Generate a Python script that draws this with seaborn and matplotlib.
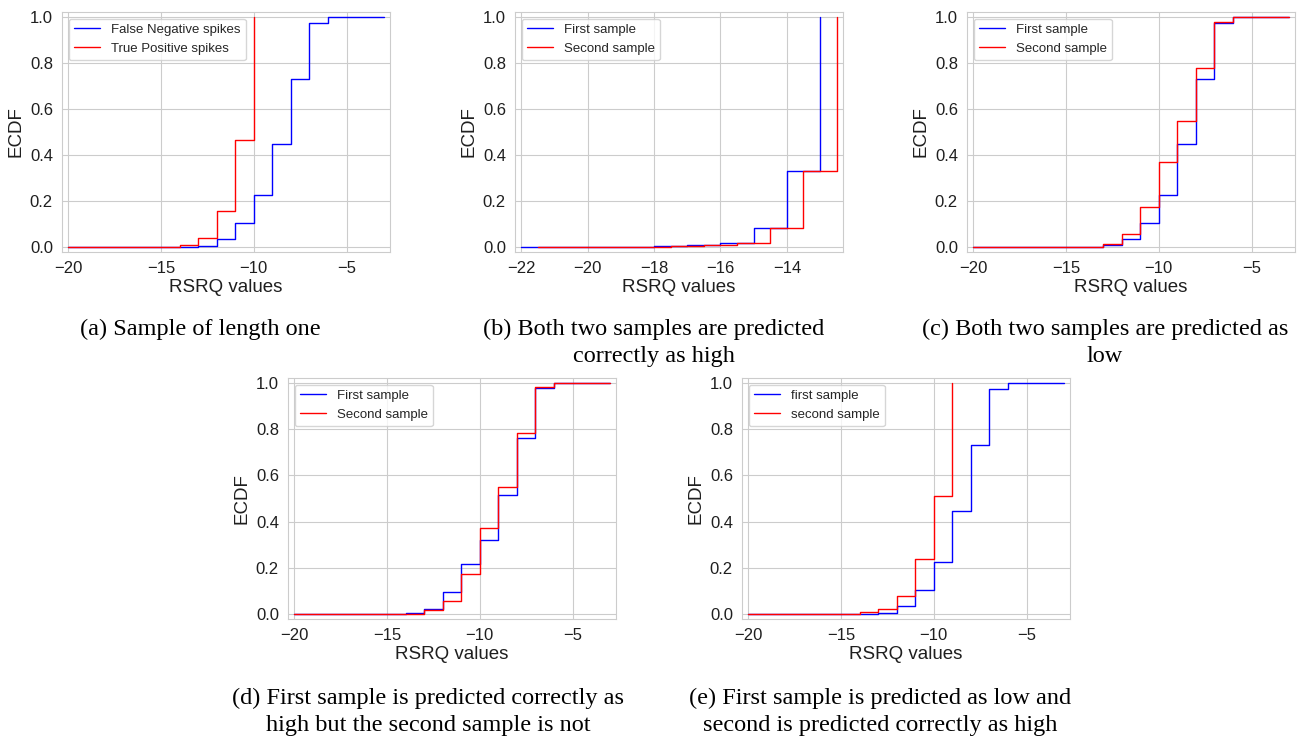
import numpy as np
import matplotlib
matplotlib.use("Agg")
import matplotlib.pyplot as plt
from matplotlib.ticker import MultipleLocator
import seaborn as sns

# RSRQ values (dB) and the ECDF level reached at each value
# (a) sample of length one
rsrq_a_fn = [-20, -14, -13, -12, -11, -10, -9, -8, -7, -6, -3]
ecdf_a_fn = [0.001, 0.003, 0.008, 0.036, 0.107, 0.228, 0.446, 0.730, 0.971, 0.998, 1.0]
rsrq_a_tp = [-20, -14, -13, -12, -11, -10]
ecdf_a_tp = [0.002, 0.012, 0.040, 0.157, 0.466, 1.0]

# (b) both predicted correctly as high
rsrq_b_1 = [-22, -18, -17, -16, -15, -14, -13]
ecdf_b_1 = [0.001, 0.004, 0.009, 0.020, 0.084, 0.333, 1.0]
rsrq_b_2 = [-21.5, -17.5, -16.5, -15.5, -14.5, -13.5, -12.5]
ecdf_b_2 = [0.001, 0.004, 0.009, 0.020, 0.084, 0.333, 1.0]

# (c) both predicted as low
rsrq_c_1 = [-20, -14, -13, -12, -11, -10, -9, -8, -7, -6, -3]
ecdf_c_1 = [0.001, 0.003, 0.009, 0.036, 0.107, 0.228, 0.446, 0.730, 0.971, 0.998, 1.0]
rsrq_c_2 = [-20, -14, -13, -12, -11, -10, -9, -8, -7, -6, -3]
ecdf_c_2 = [0.001, 0.003, 0.014, 0.058, 0.173, 0.371, 0.548, 0.779, 0.975, 0.998, 1.0]

# (d) first correct as high, second not
rsrq_d_1 = [-20, -14, -13, -12, -11, -10, -9, -8, -7, -6, -3]
ecdf_d_1 = [0.001, 0.006, 0.025, 0.095, 0.218, 0.323, 0.515, 0.763, 0.975, 0.998, 1.0]
rsrq_d_2 = [-20, -14, -13, -12, -11, -10, -9, -8, -7, -6, -3]
ecdf_d_2 = [0.001, 0.003, 0.017, 0.059, 0.173, 0.371, 0.548, 0.781, 0.983, 0.998, 1.0]

# (e) first predicted low, second correct as high
rsrq_e_1 = [-20, -14, -13, -12, -11, -10, -9, -8, -7, -6, -3]
ecdf_e_1 = [0.001, 0.003, 0.006, 0.038, 0.107, 0.228, 0.446, 0.729, 0.973, 0.998, 1.0]
rsrq_e_2 = [-20, -14, -13, -12, -11, -10, -9]
ecdf_e_2 = [0.001, 0.009, 0.022, 0.081, 0.238, 0.509, 1.0]

captions = [
    "(a) Sample of length one",
    "(b) Both two samples are predicted\ncorrectly as high",
    "(c) Both two samples are predicted as\nlow",
    "(d) First sample is predicted correctly as\nhigh but the second sample is not",
    "(e) First sample is predicted as low and\nsecond is predicted correctly as high",
]

sns.set_style("whitegrid")
plt.rcParams["font.family"] = ["Liberation Sans", "DejaVu Sans"]

W, H = 1299, 736
fig = plt.figure(figsize=(W / 100, H / 100), dpi=100)


def add_ax(left, top, width, height):
    return fig.add_axes([left / W, 1 - (top + height) / H, width / W, height / H])


def draw_panel(ax, series, step):
    lo, hi = [], []
    for label, x, lev, color in series:
        w = np.diff(np.r_[0.0, lev])
        sns.ecdfplot(x=x, weights=w, ax=ax, color=color, lw=1.0, label=label)
        lo.append(min(x))
        hi.append(max(x))
    pad = 0.02 * (max(hi) - min(lo))
    ax.set_xlim(min(lo) - pad, max(hi) + pad)
    ax.set_ylim(-0.02, 1.02)
    ax.xaxis.set_major_locator(MultipleLocator(step))
    ax.set_yticks([0, 0.2, 0.4, 0.6, 0.8, 1.0])
    ax.tick_params(labelsize=12, colors="0.12", pad=3)
    ax.set_xlabel("RSRQ values", fontsize=13.5, color="0.12", labelpad=2)
    ax.set_ylabel("ECDF", fontsize=13.5, color="0.12", labelpad=4)
    ax.legend(loc="upper left", fontsize=9.5)


panels = [
    ((62, 12, 328, 240), [("False Negative spikes", rsrq_a_fn, ecdf_a_fn, "#0000ff"),
                          ("True Positive spikes", rsrq_a_tp, ecdf_a_tp, "#ff0000")], 5),
    ((515, 12, 328, 240), [("First sample", rsrq_b_1, ecdf_b_1, "#0000ff"),
                           ("Second sample", rsrq_b_2, ecdf_b_2, "#ff0000")], 2),
    ((967, 12, 328, 240), [("First sample", rsrq_c_1, ecdf_c_1, "#0000ff"),
                           ("Second sample", rsrq_c_2, ecdf_c_2, "#ff0000")], 5),
    ((288, 378, 328, 241), [("First sample", rsrq_d_1, ecdf_d_1, "#0000ff"),
                            ("Second sample", rsrq_d_2, ecdf_d_2, "#ff0000")], 5),
    ((742, 378, 328, 241), [("first sample", rsrq_e_1, ecdf_e_1, "#0000ff"),
                            ("second sample", rsrq_e_2, ecdf_e_2, "#ff0000")], 5),
]
caption_pos = [(200, 319), (654, 319), (1105, 319), (428, 688), (880, 688)]

for (rect, series, step), cap, (cx, cy) in zip(panels, captions, caption_pos):
    ax = add_ax(*rect)
    draw_panel(ax, series, step)
    fig.text(cx / W, 1 - cy / H, cap, ha="center", va="top", fontsize=17.5,
             family=["Liberation Serif", "DejaVu Serif"], color="black",
             linespacing=1.38, multialignment="center")

fig.savefig("out.png", dpi=100)
